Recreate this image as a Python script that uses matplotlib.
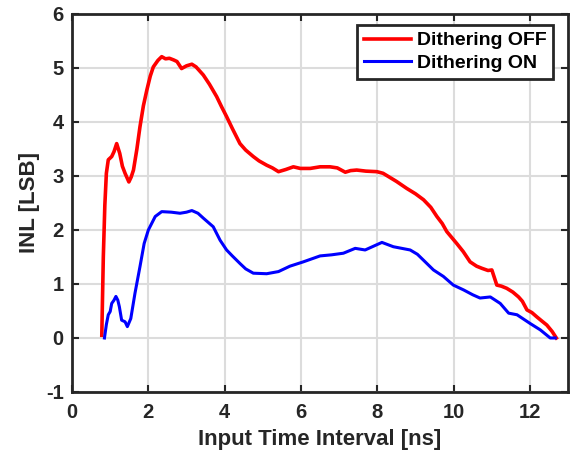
import matplotlib
matplotlib.use('Agg')
import matplotlib.pyplot as plt

# INL curves (x in ns, y in LSB)
xOff = [0.78, 0.82, 0.86, 0.90, 0.95, 1.04, 1.10, 1.17, 1.25, 1.32, 1.39, 1.49, 1.55, 1.61,
        1.70, 1.78, 1.87, 1.96, 2.05, 2.13, 2.25, 2.35, 2.45, 2.55, 2.66, 2.75, 2.87, 3.00,
        3.14, 3.25, 3.44, 3.60, 3.79, 3.92, 4.05, 4.20, 4.40, 4.55, 4.75, 4.90, 5.10, 5.25,
        5.41, 5.60, 5.80, 5.98, 6.24, 6.50, 6.76, 6.95, 7.16, 7.30, 7.46, 7.70, 7.99, 8.15,
        8.29, 8.50, 8.77, 9.00, 9.21, 9.40, 9.56, 9.70, 9.82, 10.08, 10.25, 10.43, 10.60,
        10.74, 10.90, 11.00, 11.13, 11.25, 11.39, 11.55, 11.70, 11.80, 11.92, 12.05, 12.18,
        12.30, 12.44, 12.58, 12.69]
yOff = [0.05, 1.50, 2.46, 3.05, 3.30, 3.36, 3.45, 3.60, 3.42, 3.18, 3.05, 2.89, 2.98, 3.11,
        3.50, 3.91, 4.30, 4.59, 4.85, 5.02, 5.14, 5.21, 5.17, 5.18, 5.15, 5.12, 4.99, 5.04,
        5.07, 5.02, 4.87, 4.70, 4.47, 4.28, 4.10, 3.88, 3.60, 3.48, 3.36, 3.28, 3.20, 3.15,
        3.08, 3.12, 3.17, 3.14, 3.14, 3.17, 3.17, 3.15, 3.07, 3.10, 3.11, 3.09, 3.08, 3.05,
        2.99, 2.90, 2.77, 2.67, 2.56, 2.42, 2.25, 2.12, 1.97, 1.75, 1.60, 1.41, 1.33,
        1.29, 1.25, 1.26, 0.98, 0.96, 0.92, 0.85, 0.76, 0.68, 0.52, 0.47, 0.39,
        0.32, 0.24, 0.12, 0.00]

xOn = [0.85, 0.90, 0.95, 1.00, 1.04, 1.10, 1.15, 1.20, 1.24, 1.30, 1.39, 1.45, 1.54, 1.65,
       1.78, 1.89, 2.00, 2.18, 2.35, 2.60, 2.83, 3.00, 3.14, 3.30, 3.44, 3.70, 3.88, 4.05,
       4.20, 4.40, 4.55, 4.75, 5.10, 5.41, 5.71, 6.06, 6.50, 6.80, 7.11, 7.42, 7.68, 7.90,
       8.12, 8.42, 8.86, 9.05, 9.21, 9.47, 9.73, 9.99, 10.26, 10.50, 10.69, 10.96, 11.22,
       11.44, 11.66, 12.00, 12.27, 12.53, 12.66]
yOn = [0.00, 0.25, 0.43, 0.49, 0.64, 0.70, 0.77, 0.70, 0.58, 0.33, 0.30, 0.21, 0.36, 0.83,
       1.32, 1.75, 2.00, 2.25, 2.34, 2.33, 2.31, 2.33, 2.36, 2.31, 2.22, 2.06, 1.81, 1.63,
       1.52, 1.38, 1.28, 1.20, 1.19, 1.23, 1.33, 1.41, 1.52, 1.54, 1.57, 1.66, 1.63, 1.70,
       1.77, 1.69, 1.63, 1.55, 1.44, 1.26, 1.14, 0.98, 0.89, 0.80, 0.74, 0.76, 0.64,
       0.46, 0.43, 0.27, 0.15, 0.00, 0.00]

xTicks = [0, 2, 4, 6, 8, 10, 12]
yTicks = [-1, 0, 1, 2, 3, 4, 5, 6]

plt.rcParams['font.family'] = ['Liberation Sans', 'DejaVu Sans']
plt.rcParams['font.weight'] = 'bold'
plt.rcParams['axes.unicode_minus'] = False

fig = plt.figure(figsize=(5.78, 4.59), dpi=100)
ax = fig.add_axes([0.1246, 0.146, 0.8584, 0.8235])

ax.plot(xOff, yOff, color='#ff0000', linewidth=2.6, label='Dithering OFF')
ax.plot(xOn, yOn, color='#0000ff', linewidth=2.2, label='Dithering ON')

ax.set_xlim(0, 13)
ax.set_ylim(-1, 6)
ax.set_xticks(xTicks)
ax.set_yticks(yTicks)
ax.grid(True, color='#dcdcdc', linewidth=1.5)
ax.set_axisbelow(True)
ax.tick_params(direction='in', length=5, width=1.5, top=True, right=True,
               labelsize=14.5, colors='#262626')
ax.tick_params(axis='x', pad=8)
ax.tick_params(axis='y', pad=6)
for lbl in ax.get_xticklabels() + ax.get_yticklabels():
    lbl.set_fontweight('bold')
for s in ax.spines.values():
    s.set_linewidth(2)
    s.set_color('#262626')

ax.set_xlabel('Input Time Interval [ns]', fontsize=16, fontweight='bold', color='#262626', labelpad=5)
ax.set_ylabel('INL [LSB]', fontsize=16, fontweight='bold', color='#262626', labelpad=4)

leg = ax.legend(loc='upper right', bbox_to_anchor=(0.9698, 0.9709), borderaxespad=0,
                fontsize=14, frameon=True, fancybox=False, framealpha=1,
                borderpad=0.35, handlelength=2.4, handletextpad=0.3, labelspacing=0.25)
leg.get_frame().set_edgecolor('#262626')
leg.get_frame().set_linewidth(2)
for t in leg.get_texts():
    t.set_fontweight('bold')

fig.savefig('out.png', dpi=100)
